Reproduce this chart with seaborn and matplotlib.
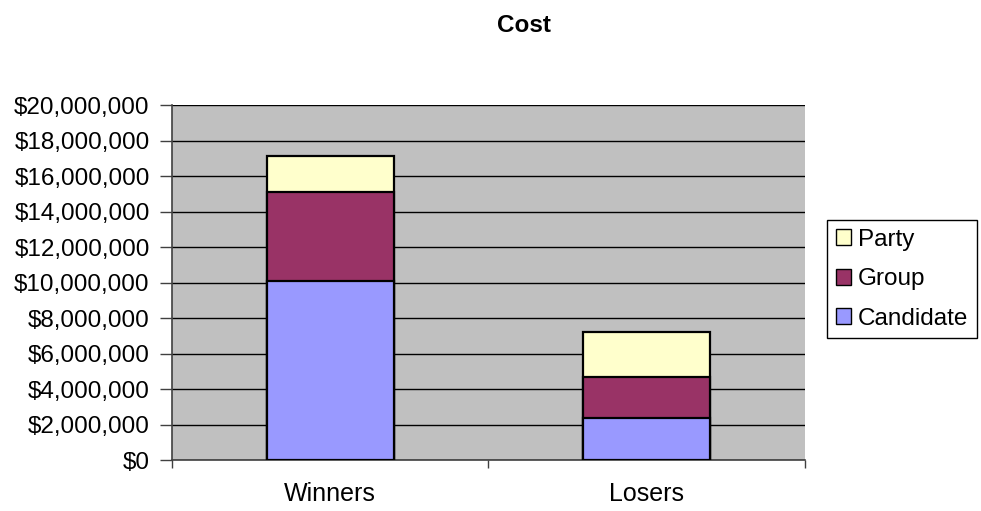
import pandas as pd
import seaborn as sns
import matplotlib.pyplot as plt
from matplotlib.patches import Patch
from matplotlib.ticker import FuncFormatter

# Values (dollars)
groups = ['Winners', 'Losers']
candidate = [10100000, 2350000]
group = [5000000, 2300000]
party = [2050000, 2550000]

colors = {'Candidate': '#9999FF', 'Group': '#993366', 'Party': '#FFFFCC'}

df = pd.DataFrame({'result': groups, 'Candidate': candidate,
                   'Group': group, 'Party': party})
# cumulative tops for stacking, drawn largest first
df['top_group'] = df['Candidate'] + df['Group']
df['top_party'] = df['top_group'] + df['Party']

sns.set_style('white')
plt.rcParams['font.family'] = ['Liberation Sans', 'DejaVu Sans']
plt.rcParams['text.color'] = 'black'
plt.rcParams['xtick.labelcolor'] = 'black'
plt.rcParams['ytick.labelcolor'] = 'black'

fig = plt.figure(figsize=(9.81, 5.11), dpi=100)
ax = fig.add_axes([0.1753, 0.0998, 0.8206 - 0.1753, 0.7945 - 0.0998])
ax.set_facecolor('#C0C0C0')

for col, name in [('top_party', 'Party'), ('top_group', 'Group'), ('Candidate', 'Candidate')]:
    sns.barplot(data=df, x='result', y=col, color=colors[name], width=0.4,
                edgecolor='black', linewidth=1.6, saturation=1, ax=ax, zorder=3)

ax.set_xlim(-0.5, 1.5)
ax.set_ylim(0, 20000000)
ax.set_yticks(range(0, 20000001, 2000000))
ax.yaxis.set_major_formatter(FuncFormatter(lambda v, p: f'${v:,.0f}'))
ax.grid(axis='y', color='black', linewidth=1.0, zorder=1)
ax.set_axisbelow(True)
ax.set_xlabel('')
ax.set_ylabel('')

ax.tick_params(axis='y', length=9, width=1, color='#404040', labelsize=17.5,
               labelcolor='black', direction='out', left=True, pad=7)
ax.tick_params(axis='x', which='major', length=0, labelsize=18, labelcolor='black', pad=16)
ax.set_xticks([-0.5, 0.5, 1.5], minor=True)
ax.tick_params(axis='x', which='minor', length=6, width=1, color='#404040', direction='out', bottom=True)

for side in ['top', 'right']:
    ax.spines[side].set_visible(False)
ax.spines['left'].set_color('#404040')
ax.spines['bottom'].set_color('#404040')
ax.spines['left'].set_linewidth(1.2)
ax.spines['bottom'].set_linewidth(1.2)

fig.text(0.534, 0.951, 'Cost', ha='center', va='center', fontsize=17.5,
         fontweight='bold', color='black')

handles = [Patch(facecolor=colors[n], edgecolor='black', label=n) for n in ['Party', 'Group', 'Candidate']]
leg = fig.legend(handles=handles, loc='upper left', bbox_to_anchor=(0.843, 0.5695),
                 fontsize=17.5, frameon=True, fancybox=False, framealpha=1,
                 edgecolor='black', handlelength=0.62, handleheight=0.62,
                 handletextpad=0.3, labelspacing=0.72, borderpad=0.36,
                 borderaxespad=0)
leg.get_frame().set_linewidth(1.0)

fig.savefig('out.png', dpi=100)
